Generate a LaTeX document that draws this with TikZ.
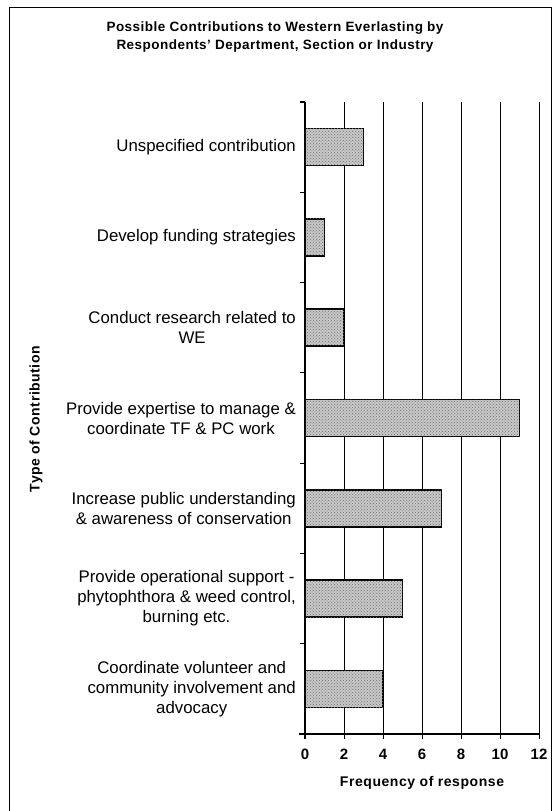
\documentclass[tikz,border=0pt]{standalone}
\usepackage{fontspec}
\setmainfont{Liberation Sans}
\usetikzlibrary{patterns}
\begin{document}
\begin{tikzpicture}[x=1pt,y=-1pt]
\tikzset{
  gridline/.style={line width=0.9pt},
  axisline/.style={line width=1.1pt},
  barbox/.style={draw, line width=1.6pt, fill=black!22, postaction={pattern=crosshatch dots, pattern color=black!55}},
  cat/.style={anchor=east, align=center, inner sep=0pt, font=\fontsize{16.8}{20}\selectfont},
  ticklab/.style={font=\bfseries\fontsize{15}{17}\selectfont, inner sep=0pt},
  axtitle/.style={font=\bfseries\fontsize{14}{16}\selectfont\addfontfeatures{LetterSpace=4}, inner sep=0pt},
}
\useasboundingbox (0,0) rectangle (553,811);
\fill[white] (0,0) rectangle (553,811);
% outer frame
\draw[line width=1pt] (9,811) -- (9,7) -- (551,7) -- (551,811);
% title
\node[font=\bfseries\fontsize{13.5}{18.5}\selectfont\addfontfeatures{LetterSpace=3.5}, align=center] (title) at (275,37)
  {Possible Contributions to Western Everlasting by\\Respondents' Department, Section or Industry};
\def\xo{305}
\def\un{19.5}
\def\yt{102}
\def\yb{734}
\def\ch{90.2857}
% gridlines
\foreach \k in {1,...,6} {
  \draw[gridline] (\xo+39*\k,\yt) -- (\xo+39*\k,\yb+5);
}
% axes
\draw[axisline] (\xo,\yt) -- (\xo,\yb+5);
\draw[axisline] (\xo-6,\yb) -- (539,\yb);
\foreach \i in {0,...,7} {
  \draw[axisline] (\xo-5,\yt+\ch*\i) -- (\xo,\yt+\ch*\i);
}
% x tick labels
\foreach \k/\v in {0/0,1/2,2/4,3/6,4/8,5/10,6/12} {
  \node[ticklab] (t\k) at (\xo+39*\k,754) {\v};
}
% bars
\foreach \i/\v in {0/3,1/1,2/2,3/11,4/7,5/5,6/4} {
  \draw[barbox] (\xo,\yt+\ch*\i+\ch/2-18.5) rectangle (\xo+\un*\v,\yt+\ch*\i+\ch/2+18.5);
}
% category labels
\node[cat] (c1) at (296,147.1) {Unspecified contribution};
\node[cat] (c2) at (296,237.4) {Develop funding strategies};
\node[cat] (c3) at (296,327.7) {Conduct research related to\\WE};
\node[cat] (c4) at (296,418.0) {Provide expertise to manage \&\\coordinate TF \& PC work};
\node[cat] (c5) at (296,508.3) {Increase public understanding\\\& awareness of conservation};
\node[cat] (c6) at (296,598.6) {Provide operational support -\\phytophthora \& weed control,\\burning etc.};
\node[cat] (c7) at (296,688.9) {Coordinate volunteer and\\community involvement and\\advocacy};
% axis titles
\node[axtitle] (xt) at (422,783) {Frequency of response};
\node[axtitle, rotate=90] (yt) at (36,419) {Type of Contribution};
\end{tikzpicture}
\end{document}
